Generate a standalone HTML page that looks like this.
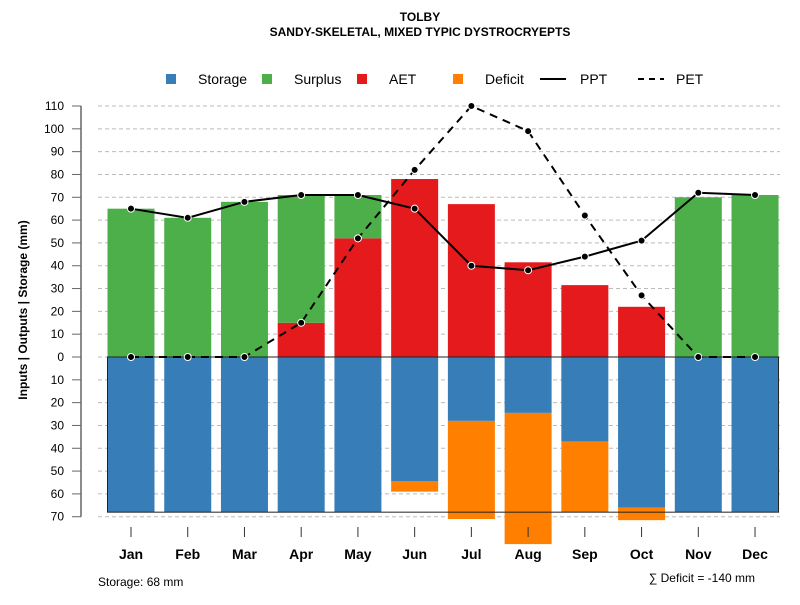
<!DOCTYPE html>
<html><head><meta charset="utf-8"><style>
body{margin:0;background:#fff;font-family:"Liberation Sans",sans-serif}
svg text{font-family:"Liberation Sans",sans-serif}
</style></head><body>
<svg id="c" width="800" height="600" xmlns="http://www.w3.org/2000/svg">
<text x="420" y="21" font-size="12" font-weight="bold" text-anchor="middle">TOLBY</text>
<text x="420" y="36" font-size="12" font-weight="bold" text-anchor="middle">SANDY-SKELETAL, MIXED TYPIC DYSTROCRYEPTS</text>
<g font-size="14">
<rect x="166" y="74" width="10" height="10" fill="#377eb8"/>
<text x="198" y="84">Storage</text>
<rect x="262" y="74" width="10" height="10" fill="#4daf4a"/>
<text x="294" y="84">Surplus</text>
<rect x="357" y="74" width="10" height="10" fill="#e41a1c"/>
<text x="389" y="84">AET</text>
<rect x="453" y="74" width="10" height="10" fill="#ff7f00"/>
<text x="485" y="84">Deficit</text>
<line x1="540" y1="79" x2="566" y2="79" stroke="#000" stroke-width="2"/>
<text x="580" y="84">PPT</text>
<line x1="638" y1="79" x2="664" y2="79" stroke="#000" stroke-width="2" stroke-dasharray="6,5"/>
<text x="676" y="84">PET</text>
</g>
<text transform="translate(27,310) rotate(-90)" font-size="12" font-weight="bold" text-anchor="middle">Inputs | Outputs | Storage    (mm)</text>
<text x="98" y="586" font-size="12">Storage: 68 mm</text>
<text x="755" y="582" font-size="12" text-anchor="end">∑ Deficit = -140 mm</text>
<g id="grid"></g><g id="bars"></g><g id="lines"></g><g id="axes"></g>
</svg>
<script>
const months=["Jan","Feb","Mar","Apr","May","Jun","Jul","Aug","Sep","Oct","Nov","Dec"];
const storage=[68,68,68,68,68,54.5,28,24.5,37,66,68,68];
const deficit=[0,0,0,0,0,4.5,43,57.5,31,5.5,0,0];
const aet=[0,0,0,15,52,78,67,41.5,31.5,22,0,0];
const surplus=[65,61,68,56,19,0,0,0,0,0,70,71];
const ppt=[65,61,68,71,71,65,40,38,44,51,72,71];
const pet=[0,0,0,15,52,82,110,99,62,27,0,0];
const yTicks=[-70,-60,-50,-40,-30,-20,-10,0,10,20,30,40,50,60,70,80,90,100,110];
const storageMax=68;
const NS="http://www.w3.org/2000/svg";
const y=v=>357-v*2.2818;
const x=i=>131+i*56.73;
const bw=47;
function mk(p,t,a){const e=document.createElementNS(NS,t);for(const k in a)e.setAttribute(k,a[k]);document.getElementById(p).appendChild(e);return e;}
yTicks.forEach(t=>{
 const g=mk("grid","line",{x1:98,x2:780,y1:y(t),y2:y(t),stroke:"#bbb","stroke-dasharray":"4,3"});
 
 
 const tk=mk("axes","line",{x1:72,x2:81,y1:y(t),y2:y(t),stroke:"#666"});
 
 
 const l=mk("axes","text",{x:64,y:y(t)+4,"font-size":12,"text-anchor":"end"});
 l.textContent=Math.abs(t);
 
 
});
const ax=mk("axes","line",{x1:81,x2:81,y1:y(110),y2:y(-70),stroke:"#666","stroke-width":1.5});


months.forEach((m,i)=>{
 const cx=x(i),l=cx-bw/2;
 const s=mk("bars","rect",{x:l,y:y(0),width:bw,height:y(-storage[i])-y(0),fill:"#377eb8"});
 
 
 if(deficit[i]>0){const d=mk("bars","rect",{x:l,y:y(-storage[i]),width:bw,height:y(-storage[i]-deficit[i])-y(-storage[i]),fill:"#ff7f00"});
 
 }
 if(aet[i]>0){const a=mk("bars","rect",{x:l,y:y(aet[i]),width:bw,height:y(0)-y(aet[i]),fill:"#e41a1c"});
 
 }
 if(surplus[i]>0){const u=mk("bars","rect",{x:l,y:y(aet[i]+surplus[i]),width:bw,height:y(aet[i])-y(aet[i]+surplus[i]),fill:"#4daf4a"});
 
 }
 const tk=mk("axes","line",{x1:cx,x2:cx,y1:527,y2:537,stroke:"#333"});
 
 
 const t=mk("axes","text",{x:cx,y:559,"font-size":14,"font-weight":"bold","text-anchor":"middle"});
 t.textContent=m;
 
 
});
const box=mk("bars","rect",{x:x(0)-bw/2,y:y(0),width:x(11)+bw/2-(x(0)-bw/2),height:y(-storageMax)-y(0),fill:"none",stroke:"#222","stroke-width":1});


const p1=mk("lines","polyline",{points:ppt.map((v,i)=>x(i)+","+y(v)).join(" "),fill:"none",stroke:"#000","stroke-width":2});


const p2=mk("lines","polyline",{points:pet.map((v,i)=>x(i)+","+y(v)).join(" "),fill:"none",stroke:"#000","stroke-width":2,"stroke-dasharray":"8,6"});


[ppt,pet].forEach((arr,k)=>arr.forEach((v,i)=>{
 const c=mk("lines","circle",{cx:x(i),cy:y(v),r:3.5,fill:"#000",stroke:"#fff","stroke-width":1});
 
 
}));
</script>
</body></html>
